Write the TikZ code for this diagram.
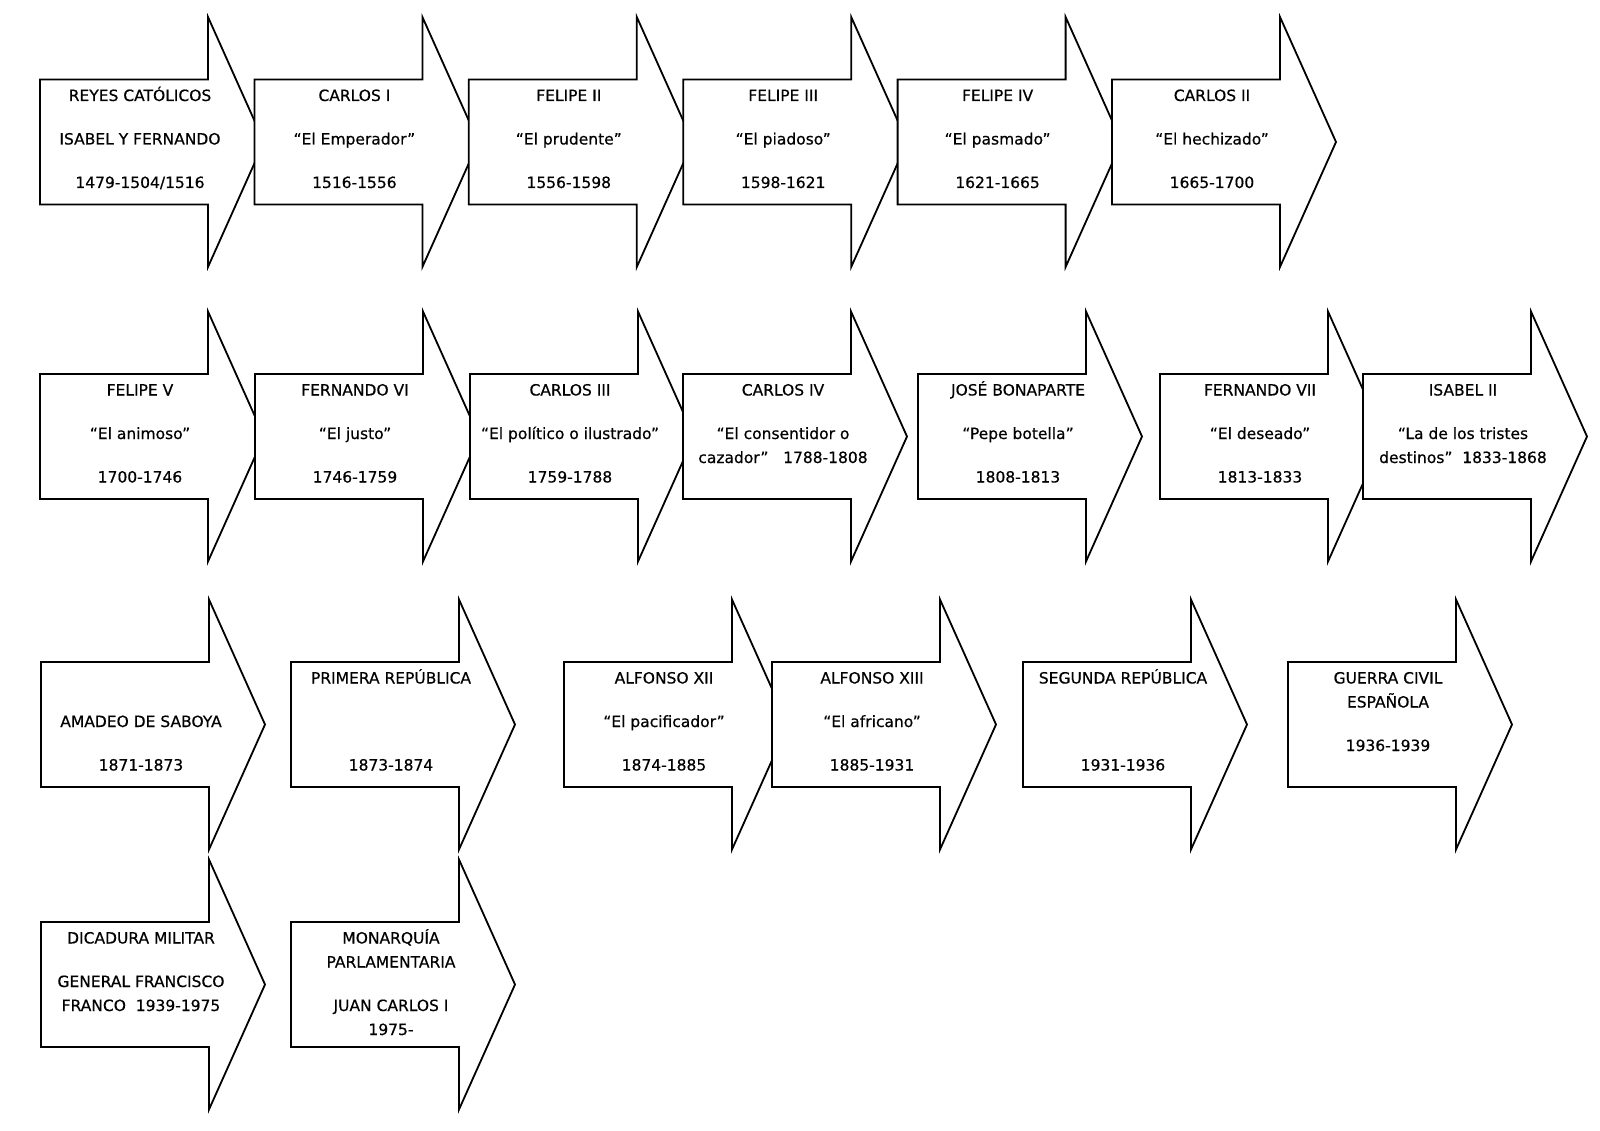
\documentclass[tikz,border=0pt]{standalone}
\usepackage{fontspec}
\setmainfont{DejaVu Sans}
\newfontfamily\letra{DejaVu Sans}[FakeBold=0.5]
\usepackage{tikz}

\begin{document}
\begin{tikzpicture}[x=1pt, y=-1pt,
  flecha/.pic={\draw[line width=1.8pt, fill=white] (0,-62.5) -- (168,-62.5) -- (168,-125) -- (224,0) -- (168,125) -- (168,62.5) -- (0,62.5) -- cycle;},
  rey/.style={anchor=north, align=center, inner sep=0pt, font=\letra\fontsize{15.5}{24}\selectfont}]
\useasboundingbox[fill=white] (0,0) rectangle (1600,1131);

\pic at (40,142) {flecha};
\node[rey] (reyesCat) at (140,84) {\strut REYES CATÓLICOS\\[19.5pt]ISABEL Y FERNANDO\\[19.5pt]1479-1504/1516};
\pic at (254.4,142) {flecha};
\node[rey] (carlosI) at (354.4,84) {\strut CARLOS I\\[19.5pt]“El Emperador”\\[19.5pt]1516-1556};
\pic at (468.8,142) {flecha};
\node[rey] (felipeII) at (568.8,84) {\strut FELIPE II\\[19.5pt]“El prudente”\\[19.5pt]1556-1598};
\pic at (683.2,142) {flecha};
\node[rey] (felipeIII) at (783.2,84) {\strut FELIPE III\\[19.5pt]“El piadoso”\\[19.5pt]1598-1621};
\pic at (897.6,142) {flecha};
\node[rey] (felipeIV) at (997.6,84) {\strut FELIPE IV\\[19.5pt]“El pasmado”\\[19.5pt]1621-1665};
\pic at (1112,142) {flecha};
\node[rey] (carlosII) at (1212,84) {\strut CARLOS II\\[19.5pt]“El hechizado”\\[19.5pt]1665-1700};

\pic at (40,436.5) {flecha};
\node[rey] (felipeV) at (140,378.5) {\strut FELIPE V\\[19.5pt]“El animoso”\\[19.5pt]1700-1746};
\pic at (255,436.5) {flecha};
\node[rey] (fernandoVI) at (355,378.5) {\strut FERNANDO VI\\[19.5pt]“El justo”\\[19.5pt]1746-1759};
\pic at (470,436.5) {flecha};
\node[rey] (carlosIII) at (570,378.5) {\strut CARLOS III\\[19.5pt]“El político o ilustrado”\\[19.5pt]1759-1788};
\pic at (683,436.5) {flecha};
\node[rey] (carlosIV) at (783,378.5) {\strut CARLOS IV\\[19.5pt]“El consentidor o\\cazador”\ \ \ 1788-1808};
\pic at (918,436.5) {flecha};
\node[rey] (bonaparte) at (1018,378.5) {\strut JOSÉ BONAPARTE\\[19.5pt]“Pepe botella”\\[19.5pt]1808-1813};
\pic at (1160,436.5) {flecha};
\node[rey] (fernandoVII) at (1260,378.5) {\strut FERNANDO VII\\[19.5pt]“El deseado”\\[19.5pt]1813-1833};
\pic at (1363,436.5) {flecha};
\node[rey] (isabelII) at (1463,378.5) {\strut ISABEL II\\[19.5pt]“La de los tristes\\destinos”\ \ 1833-1868};

\pic at (41,724.5) {flecha};
\node[rey] (amadeo) at (141,666.5) {\strut\\[19.5pt]AMADEO DE SABOYA\\[19.5pt]1871-1873};
\pic at (291,724.5) {flecha};
\node[rey] (primeraRep) at (391,666.5) {\strut PRIMERA REPÚBLICA\\[19.5pt]\strut\\[19.5pt]1873-1874};
\pic at (564,724.5) {flecha};
\node[rey] (alfonsoXII) at (664,666.5) {\strut ALFONSO XII\\[19.5pt]“El pacificador”\\[19.5pt]1874-1885};
\pic at (772,724.5) {flecha};
\node[rey] (alfonsoXIII) at (872,666.5) {\strut ALFONSO XIII\\[19.5pt]“El africano”\\[19.5pt]1885-1931};
\pic at (1023,724.5) {flecha};
\node[rey] (segundaRep) at (1123,666.5) {\strut SEGUNDA REPÚBLICA\\[19.5pt]\strut\\[19.5pt]1931-1936};
\pic at (1288,724.5) {flecha};
\node[rey] (guerraCivil) at (1388,666.5) {\strut GUERRA CIVIL\\ESPAÑOLA\\[19.5pt]1936-1939};

\pic at (41,984.5) {flecha};
\node[rey] (franco) at (141,926.5) {\strut DICADURA MILITAR\\[19.5pt]GENERAL FRANCISCO\\FRANCO\ \ 1939-1975};
\pic at (291,984.5) {flecha};
\node[rey] (monarquia) at (391,926.5) {\strut MONARQUÍA\\PARLAMENTARIA\\[19.5pt]JUAN CARLOS I\\1975-};
\end{tikzpicture}
\end{document}
